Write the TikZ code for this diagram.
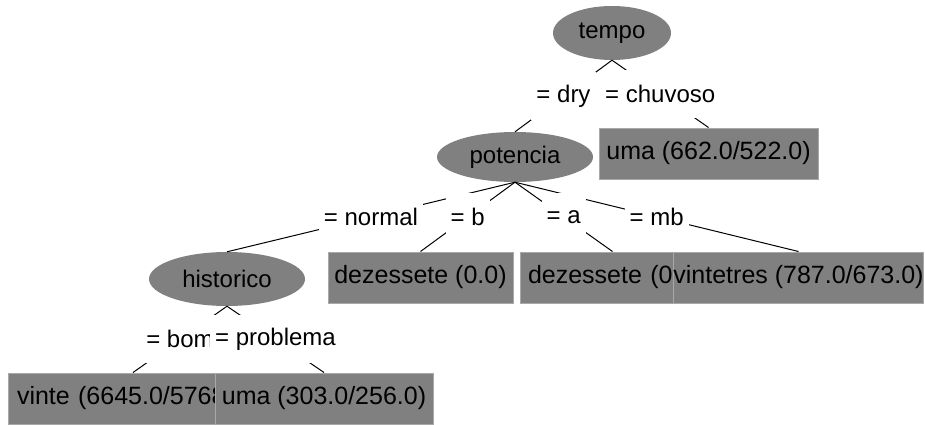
\documentclass[tikz,border=0pt]{standalone}
\usepackage{fontspec}
\setmainfont{Liberation Sans}
\usetikzlibrary{shapes.geometric}
\definecolor{nodegray}{HTML}{808080}
\definecolor{rimgray}{HTML}{A8A8A8}
\begin{document}
\begin{tikzpicture}[x=1pt,y=-1pt,
  every node/.style={font=\fontsize{24}{28}\selectfont, text=black},
  inner/.style={ellipse, fill=nodegray, inner sep=0pt},
  leaf/.style={rectangle, fill=nodegray, draw=rimgray, line width=1pt, minimum height=51pt, inner sep=0pt, font=\fontsize{25}{29}\selectfont},
  edge/.style={draw=black, line width=1pt},
  lab/.style={fill=white, inner xsep=5pt, inner ysep=0pt, minimum height=48pt}]
\useasboundingbox (0,0) rectangle (925,425);
\fill[white] (0,0) rectangle (925,425);
% nodes
\node[inner, minimum width=118pt, minimum height=54pt] (tempo) at (612,33) {tempo};
\node[inner, minimum width=156pt, minimum height=50pt] (potencia) at (515,157) {potencia};
\node[inner, minimum width=156pt, minimum height=54pt] (historico) at (227,279) {historico};
\node[leaf, minimum width=219pt] (uma1) at (708.5,153.5) {uma (662.0/522.0)};
\node[leaf, minimum width=185pt] (dez1) at (420.5,277.5) {dezessete (0.0)};
\node[leaf, text width=169pt, inner xsep=8pt, align=left] (dez2) at (612.5,277.5) {\mbox{dezessete (0.0)}};
\node[leaf, minimum width=249pt] (vintetres) at (798.5,277.5) {vintetres (787.0/673.0)};
\node[leaf, text width=232pt, inner xsep=9pt, align=left] (vinte) at (133,398.5) {\mbox{vinte (6645.0/5768.0)}};
\node[leaf, minimum width=218pt] (uma2) at (324,398.5) {uma (303.0/256.0)};
% edges
\draw[edge] (tempo.south) -- (potencia.north) coordinate[midway] (m1);
\draw[edge] (tempo.south) -- (uma1.north) coordinate[midway] (m2);
\draw[edge] (potencia.south) -- (historico.north) coordinate[midway] (m3);
\draw[edge] (potencia.south) -- (dez1.north) coordinate[midway] (m4);
\draw[edge] (potencia.south) -- (dez2.north) coordinate[midway] (m5);
\draw[edge] (potencia.south) -- (vintetres.north) coordinate[midway] (m6);
\draw[edge] (historico.south) -- (vinte.north) coordinate[midway] (m7);
\draw[edge] (historico.south) -- (uma2.north) coordinate[midway] (m8);
% labels
\node[lab] (l1) at (m1) {= dry};
\node[lab] (l2) at (m2) {= chuvoso};
\node[lab] (l3) at (m3) {= normal};
\node[lab] (l4) at (m4) {= b};
\node[lab] (l5) at (m5) {= a};
\node[lab] (l6) at (m6) {= mb};
\node[lab] (l7) at (m7) {= bom};
\node[lab] (l8) at (m8) {= problema};
\end{tikzpicture}
\end{document}
